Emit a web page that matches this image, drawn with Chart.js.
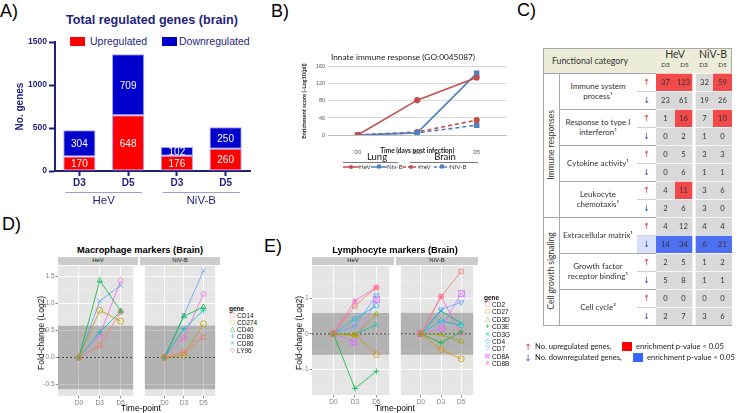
<!DOCTYPE html>
<html>
<head>
<meta charset="utf-8">
<script src="https://cdn.jsdelivr.net/npm/chart.js@4.4.1/dist/chart.umd.min.js"></script>
<style>
body{margin:0;background:#fff;width:740px;height:413px;overflow:hidden;position:relative;font-family:"Liberation Sans",Arial,sans-serif}
canvas{position:absolute}
.lbl{position:absolute;white-space:pre;line-height:1.2}
.bx{position:absolute;box-sizing:border-box}
</style>
</head>
<body>
<script>
// ---- A) total regulated genes
const aGroups = ['HeV', 'NiV-B'];
const aDays = ['D3', 'D5', 'D3', 'D5'];
const aUp = [170, 648, 176, 260];
const aDown = [304, 709, 102, 250];

// ---- B) innate immune response
const bDays = ['D0', 'D3', 'D5'];
const bLungHeV = [0, 82, 135];
const bLungNiV = [0, 5, 145];
const bBrainHeV = [0, 7, 35];
const bBrainNiV = [0, 5, 23];

// ---- C) functional categories
const cGroupNames = ['Immune responses', 'Cell growth signaling'];
const cGroupSizes = [4, 3];
const cCategories = ['Immune system\nprocess¹', 'Response to type I\ninterferon¹', 'Cytokine activity¹',
  'Leukocyte\nchemotaxis¹', 'Extracellular matrix¹', 'Growth factor\nreceptor binding¹', 'Cell cycle²'];
const cColumns = ['HeV D3', 'HeV D5', 'NiV-B D3', 'NiV-B D5'];
const cUp = [[37, 123, 32, 59], [1, 16, 7, 10], [0, 5, 3, 3], [4, 11, 3, 6], [4, 12, 4, 4], [2, 5, 1, 2], [0, 0, 0, 0]];
const cDown = [[23, 61, 19, 26], [0, 2, 1, 0], [0, 6, 1, 1], [2, 6, 3, 0], [14, 34, 6, 21], [5, 8, 1, 1], [2, 7, 3, 6]];
const cUpSig = [[1, 1, 0, 1], [0, 1, 0, 1], [0, 0, 0, 0], [0, 1, 0, 0], [0, 0, 0, 0], [0, 0, 0, 0], [0, 0, 0, 0]];
const cDownSig = [[0, 0, 0, 0], [0, 0, 0, 0], [0, 0, 0, 0], [0, 0, 0, 0], [1, 1, 1, 1], [0, 0, 0, 0], [0, 0, 0, 0]];

// ---- D) / E) fold-change facets
const timePoints = ['D0', 'D3', 'D5'];
const foldBand = 0.585; // log2(1.5)
const dGenes = ['CD14', 'CD274', 'CD40', 'CD80', 'CD86', 'LY96'];
const dHeV = [[0, 0.22, 0.84], [0, 0.87, 0.67], [0, 1.42, 0.86], [0, 0.47, 0.85], [0, 1.04, 1.33], [0, 0.41, 1.42]];
const dNiV = [[0, 0.10, 0.37], [0, 0.04, 0.62], [0, 0.76, 0.93], [0, 0.53, 0.87], [0, 0.78, 1.60], [0, 0.36, 1.17]];
const dTicks = [-0.5, 0, 0.5, 1, 1.5];
const eGenes = ['CD2', 'CD27', 'CD3D', 'CD3E', 'CD3G', 'CD4', 'CD7', 'CD8A', 'CD8B'];
const eHeV = [[0, 0.78, 1.29], [0, -0.02, -0.58], [0, -0.05, 0.55], [0, -1.53, -1.05], [0, -0.02, 0.26],
  [0, 0.42, 0.78], [0, 0.21, 1.08], [0, -0.23, 0.97], [0, 0.92, 1.30]];
const eNiV = [[0, 1.04, 1.74], [0, -0.44, -0.70], [0, -0.02, -0.21], [0, -0.25, 0.05], [0, 0.64, 0.30],
  [0, 0.36, 0.24], [0, 0.68, 0.88], [0, 0.15, 1.13], [0, 1.04, 0.0]];
const eTicks = [-1, 0, 1];

const dColors = ['#F8766D', '#B79F00', '#00BA38', '#00BFC4', '#619CFF', '#F564E3'];
const eColors = ['#F8766D', '#D39200', '#93AA00', '#00BA38', '#00C19F', '#00B9E3', '#619CFF', '#DB72FB', '#FF61C3'];
const dShapes = ['rect', 'circle', 'triangle', 'cross', 'crossRot', 'rectRot'];
const eShapes = ['rect', 'circle', 'triangle', 'cross', 'crossRot', 'rectRot', 'triDown', 'sqCross', 'star'];
const glyphs = {rect: '□', circle: '○', triangle: '△', cross: '+', crossRot: '×', rectRot: '◇', triDown: '▽', sqCross: '⊠', star: '✳'};

const navy = '#1f1f7e';
Chart.defaults.font.family = '"Liberation Sans", Arial, sans-serif';
Chart.defaults.animation = false;

// helpers
function makeCanvas(x, y, w, h) {
  const c = document.createElement('canvas');
  c.width = w; c.height = h;
  c.style.left = x + 'px'; c.style.top = y + 'px';
  c.style.width = w + 'px'; c.style.height = h + 'px';
  document.body.appendChild(c);
  return c;
}
function label(str, x, y, css, anchor, rot) {
  const d = document.createElement('div');
  d.className = 'lbl';
  d.textContent = str;
  d.style.cssText += 'left:' + x + 'px;top:' + y + 'px;' + (css || '');
  const tx = anchor === 'l' ? '0' : anchor === 'r' ? '-100%' : '-50%';
  d.style.transform = 'translate(' + tx + ',-50%)' + (rot ? ' rotate(-90deg)' : '');
  document.body.appendChild(d);
  return d;
}
function box(x, y, w, h, css) {
  const d = document.createElement('div');
  d.className = 'bx';
  d.style.cssText += 'left:' + x + 'px;top:' + y + 'px;width:' + w + 'px;height:' + h + 'px;' + (css || '');
  document.body.appendChild(d);
  return d;
}

// panel letters
label('A)', 0, 12, 'font-size:18px', 'l');
label('B)', 271, 12, 'font-size:18px', 'l');
label('C)', 517, 11, 'font-size:18px', 'l');
label('D)', 2, 225, 'font-size:18px', 'l');
label('E)', 264, 247, 'font-size:18px', 'l');

// ================= A =================
label('Total regulated genes (brain)', 152, 21, 'font-size:12.6px;font-weight:bold;color:' + navy);
box(70, 37, 15, 9, 'background:#ff0000');
label('Upregulated', 90, 41, 'font-size:10.5px;color:' + navy, 'l');
box(162, 37, 15, 9, 'background:#0000cc');
label('Downregulated', 179, 41, 'font-size:10.5px;color:' + navy, 'l');

const aPlugin = {
  id: 'aExtras',
  afterDatasetsDraw(chart) {
    const ctx = chart.ctx;
    ctx.save();
    ctx.fillStyle = '#fff';
    ctx.font = '10px "Liberation Sans"';
    ctx.textAlign = 'center';
    ctx.textBaseline = 'middle';
    chart.data.datasets.forEach((ds, di) => {
      chart.getDatasetMeta(di).data.forEach((bar, i) => {
        ctx.fillText(String(ds.data[i]), bar.x, (bar.y + bar.base) / 2 + 1);
      });
    });
    const x = chart.scales.x, x2 = chart.scales.x2;
    ctx.strokeStyle = '#9c9cd0';
    ctx.lineWidth = 1;
    aGroups.forEach((g, gi) => {
      const a = x.getPixelForValue(gi * 2) - 14, b = x.getPixelForValue(gi * 2 + 1) + 14;
      ctx.beginPath();
      ctx.moveTo(a, x2.top + 1.5);
      ctx.lineTo(b, x2.top + 1.5);
      ctx.stroke();
    });
    ctx.restore();
  }
};

new Chart(makeCanvas(0, 30, 252, 182), {
  type: 'bar',
  data: {
    labels: aDays,
    datasets: [
      {label: 'Upregulated', data: aUp, backgroundColor: '#ff0000', borderColor: '#a0a0ff', borderWidth: 1, borderSkipped: false},
      {label: 'Downregulated', data: aDown, backgroundColor: '#0000cc', borderColor: '#a0a0ff', borderWidth: 1, borderSkipped: false}
    ]
  },
  options: {
    responsive: false,
    barPercentage: 0.66,
    categoryPercentage: 1,
    layout: {padding: {top: 12, right: 2}},
    plugins: {legend: {display: false}, tooltip: {enabled: false}},
    scales: {
      x: {
        stacked: true, weight: 0,
        grid: {offset: false, drawOnChartArea: false, tickLength: 5, tickWidth: 2, tickColor: navy},
        border: {color: navy, width: 2},
        ticks: {color: navy, font: {size: 10, weight: 'bold'}, padding: 1},
        afterFit: s => { s.height = 20; }
      },
      x2: {
        type: 'category', labels: aGroups, position: 'bottom', weight: 1, offset: true,
        grid: {display: false, drawTicks: false}, border: {display: false},
        ticks: {color: navy, font: {size: 11.5}, padding: 3},
        afterFit: s => { s.height = 21; }
      },
      y: {
        stacked: true, min: 0, max: 1500,
        ticks: {stepSize: 500, color: navy, font: {size: 8.5, weight: 'bold'}, padding: 2, callback: v => String(v)},
        grid: {drawOnChartArea: false, tickLength: 6, tickWidth: 2, tickColor: navy},
        border: {color: navy, width: 2},
        title: {display: true, text: 'No. genes', color: navy, font: {size: 10, weight: 'bold'}, padding: {top: 14, bottom: 0}},
        afterFit: s => { s.width = 55; }
      }
    }
  },
  plugins: [aPlugin]
});

// ================= B =================
const bRed = '#c0504d', bBlue = '#4f81bd';
new Chart(makeCanvas(298, 48, 214, 107), {
  type: 'line',
  data: {
    labels: bDays,
    datasets: [
      {label: 'HeV', data: bLungHeV, borderColor: bRed, backgroundColor: bRed, pointStyle: 'circle', pointRadius: 2.3, borderWidth: 1.6},
      {label: 'Niv-B', data: bLungNiV, borderColor: bBlue, backgroundColor: bBlue, pointStyle: 'rect', pointRadius: 2.8, borderWidth: 1.6},
      {label: 'HeV', data: bBrainHeV, borderColor: bRed, backgroundColor: bRed, pointStyle: 'circle', pointRadius: 2.3, borderWidth: 1.6, borderDash: [4, 3]},
      {label: 'NiV-B', data: bBrainNiV, borderColor: bBlue, backgroundColor: bBlue, pointStyle: 'rect', pointRadius: 2.8, borderWidth: 1.6, borderDash: [4, 3]}
    ]
  },
  options: {
    responsive: false,
    layout: {padding: {right: 4}},
    plugins: {
      legend: {display: false}, tooltip: {enabled: false},
      title: {display: true, text: 'Innate immune response (GO:0045087)', color: '#222', font: {family: 'Lato', size: 8.3, weight: 'normal'}, padding: {top: 4, bottom: 5}}
    },
    scales: {
      x: {
        offset: true,
        grid: {display: false},
        border: {color: '#bfbfbf'},
        ticks: {color: '#595959', font: {size: 5.5}, padding: 6},
        title: {display: true, text: 'Time (days post infection)', color: '#222', font: {family: 'Lato', size: 6.5, weight: 'bold'}, padding: {top: 0, bottom: 0}},
        afterFit: s => { s.height = 20; }
      },
      y: {
        min: 0, max: 160,
        ticks: {stepSize: 20, color: '#595959', font: {size: 5.5}, padding: 3},
        grid: {color: '#d9d9d9', drawTicks: false},
        border: {display: false},
        title: {display: true, text: 'Enrichment score (-Log10(pl))', color: '#222', font: {family: 'Lato', size: 5.8, weight: 'bold'}, padding: {top: 3, bottom: 0}},
        afterFit: s => { s.width = 30; }
      }
    }
  }
});

// B legend
const bLegFont = 'font-family:Lato;font-size:6.2px;color:#333';
label('Lung', 377, 157, 'font-family:Lato;font-size:9.5px;color:#111');
label('Brain', 445, 157, 'font-family:Lato;font-size:9.5px;color:#111');
box(343, 162, 55, 1, 'background:#777');
box(410, 162, 68, 1, 'background:#777');
function legendSwatch(x, y, color, dashed, square) {
  const ns = 'http://www.w3.org/2000/svg';
  const svg = document.createElementNS(ns, 'svg');
  svg.setAttribute('width', 16); svg.setAttribute('height', 6);
  svg.style.cssText = 'position:absolute;left:' + x + 'px;top:' + (y - 3) + 'px';
  const ln = document.createElementNS(ns, 'line');
  ln.setAttribute('x1', 0); ln.setAttribute('x2', 16); ln.setAttribute('y1', 3); ln.setAttribute('y2', 3);
  ln.setAttribute('stroke', color); ln.setAttribute('stroke-width', 1.5);
  if (dashed) ln.setAttribute('stroke-dasharray', '3,2');
  svg.appendChild(ln);
  const m = document.createElementNS(ns, square ? 'rect' : 'circle');
  if (square) { m.setAttribute('x', 6); m.setAttribute('y', 0.5); m.setAttribute('width', 4); m.setAttribute('height', 4); }
  else { m.setAttribute('cx', 8); m.setAttribute('cy', 3); m.setAttribute('r', 2); }
  m.setAttribute('fill', color);
  svg.appendChild(m);
  document.body.appendChild(svg);
}
legendSwatch(343, 167, bRed, false, false); label('HeV', 359, 167, bLegFont, 'l');
legendSwatch(371, 167, bBlue, false, true); label('Niv-B', 387, 167, bLegFont, 'l');
legendSwatch(403, 167, bRed, true, false); label('HeV', 419, 167, bLegFont, 'l');
legendSwatch(434, 167, bBlue, true, true); label('NiV-B', 450, 167, bLegFont, 'l');

// ================= C =================
const T = {x0: 543, xg: 559, xc: 637, xa: 656, x1: 732, top: 48, hdr: 73, rowH: 18};
const tBottom = T.hdr + cCategories.length * 2 * T.rowH;
const lineCol = '#a8a8a8';
const cRed = '#f24a4a', cBlue = '#4d6ff0', cGrey = '#d9d9d9';
box(T.x0, T.top, T.x1 - T.x0, T.hdr - T.top, 'background:#ecedd8');
box(T.x0, T.hdr, T.x1 - T.x0, 1, 'background:' + lineCol);
box(T.xg, T.hdr, 1, tBottom - T.hdr, 'background:' + lineCol);
const colW = (T.x1 - T.xa) / cColumns.length;
const hdrFont = 'font-family:Lato;color:#333;';
label('Functional category', (T.x0 + T.xc) / 2, 61, hdrFont + 'font-size:8.8px');
label('HeV', T.xa + colW, 54, hdrFont + 'font-size:10.5px');
label('NiV-B', T.xa + colW * 3, 54, hdrFont + 'font-size:10.5px');
cColumns.forEach((c, i) => label(c.split(' ')[1], T.xa + colW * (i + 0.5), 64.5, hdrFont + 'font-size:6.5px'));

let gStart = 0;
cGroupNames.forEach((g, gi) => {
  const y0 = T.hdr + gStart * 2 * T.rowH, y1 = y0 + cGroupSizes[gi] * 2 * T.rowH;
  label(g, (T.x0 + T.xg) / 2, (y0 + y1) / 2, hdrFont + 'font-size:8.5px', 'c', true);
  if (gi > 0) box(T.x0, y0, T.x1 - T.x0, 1, 'background:' + lineCol);
  gStart += cGroupSizes[gi];
});
cCategories.forEach((cat, i) => {
  const y = T.hdr + i * 2 * T.rowH;
  if (i > 0) box(T.xg, y, T.x1 - T.xg, 1, 'background:' + lineCol);
  box(T.xc, y + T.rowH, T.xa - T.xc, 1, 'background:#cfcfcf');
  label(cat, (T.xg + T.xc) / 2, y + T.rowH, hdrFont + 'font-size:8px;text-align:center;line-height:1.3');
  if (cDownSig[i].every(s => s)) box(T.xc, y + T.rowH + 1, T.xa - T.xc, T.rowH - 1, 'background:#d9e0fb');
  label('↑', (T.xc + T.xa) / 2, y + T.rowH / 2, 'font-family:"DejaVu Sans";font-size:8.5px;color:#e8322f');
  label('↓', (T.xc + T.xa) / 2, y + T.rowH * 1.5, 'font-family:"DejaVu Sans";font-size:8.5px;color:#2f55d8');
});
box(T.x0, T.top, T.x1 - T.x0, tBottom - T.top + 1, 'border:1px solid ' + lineCol);

const gridRows = [];
cUp.forEach((u, i) => {
  gridRows.push({vals: u, sig: cUpSig[i], col: cRed});
  gridRows.push({vals: cDown[i], sig: cDownSig[i], col: cBlue});
});
const cellText = {
  id: 'cellText',
  afterDatasetsDraw(chart) {
    const ctx = chart.ctx;
    ctx.save();
    ctx.font = '7.6px Lato';
    ctx.fillStyle = '#333';
    ctx.textAlign = 'center';
    ctx.textBaseline = 'middle';
    chart.data.datasets.forEach((ds, di) => {
      chart.getDatasetMeta(di).data.forEach((el, i) => {
        ctx.fillText(String(gridRows[di].vals[i]), el.x + (i === 1 ? -1 : i === 2 ? 1 : 0), (el.y + el.base) / 2 + 0.5);
      });
    });
    ctx.restore();
  }
};
new Chart(makeCanvas(T.xa, T.hdr, T.x1 - T.xa, tBottom - T.hdr), {
  type: 'bar',
  data: {
    labels: cColumns,
    datasets: gridRows.map((r, ri) => ({
      data: r.vals.map(() => [ri, ri + 1]),
      grouped: false,
      barPercentage: 1,
      categoryPercentage: 1,
      backgroundColor: r.sig.map(s => s ? r.col : cGrey),
      borderColor: '#ffffff',
      borderSkipped: false,
      borderWidth: ctx => ({top: 1, bottom: 0, left: ctx.dataIndex === 2 ? 2 : 0, right: ctx.dataIndex === 1 ? 2 : 0})
    }))
  },
  options: {
    responsive: false,
    layout: {padding: 0},
    plugins: {legend: {display: false}, tooltip: {enabled: false}},
    scales: {
      x: {display: false},
      y: {display: false, min: 0, max: gridRows.length, reverse: true}
    }
  },
  plugins: [cellText]
});

const legF = 'font-family:Lato;font-size:7.6px;color:#222';
label('↑', 528, 347, 'font-family:"DejaVu Sans";font-size:8.5px;color:#e8322f');
label('No. upregulated genes,', 535, 347, legF, 'l');
box(622, 342, 10, 9, 'background:#ff0000');
label('enrichment p-value < 0.05', 636, 347, legF, 'l');
label('↓', 528, 358, 'font-family:"DejaVu Sans";font-size:8.5px;color:#2f55d8');
label('No. downregulated genes,', 535, 358, legF, 'l');
box(633, 353, 10, 9, 'background:#3366ff');
label('enrichment p-value < 0.05', 647, 358, legF, 'l');

// ================= D / E =================
function sqCrossImg(color) {
  const c = document.createElement('canvas');
  c.width = 7; c.height = 7;
  const g = c.getContext('2d');
  g.strokeStyle = color; g.lineWidth = 0.8;
  g.strokeRect(0.5, 0.5, 6, 6);
  g.beginPath(); g.moveTo(0.5, 0.5); g.lineTo(6.5, 6.5); g.moveTo(6.5, 0.5); g.lineTo(0.5, 6.5); g.stroke();
  return c;
}
function shapeProps(shape, color) {
  if (shape === 'triDown') return {pointStyle: 'triangle', pointRotation: 180};
  if (shape === 'sqCross') return {pointStyle: sqCrossImg(color)};
  return {pointStyle: shape};
}
const facetPlugin = {
  id: 'facet',
  beforeDraw(chart) {
    const {ctx, chartArea: a} = chart;
    ctx.save();
    ctx.fillStyle = '#e5e5e5';
    ctx.fillRect(a.left, a.top, a.width, a.height);
    ctx.restore();
  },
  beforeDatasetsDraw(chart) {
    const {ctx, chartArea: a} = chart;
    const y = chart.scales.y;
    const t = y.getPixelForValue(foldBand), b = y.getPixelForValue(-foldBand);
    ctx.save();
    ctx.fillStyle = 'rgba(0,0,0,0.22)';
    ctx.fillRect(a.left, t, a.width, b - t);
    const z = y.getPixelForValue(0);
    ctx.strokeStyle = '#222';
    ctx.lineWidth = 0.8;
    ctx.setLineDash([2, 2]);
    ctx.beginPath(); ctx.moveTo(a.left, z); ctx.lineTo(a.right, z); ctx.stroke();
    ctx.restore();
  }
};

function facet(x, y, w, h, yW, series, genes, colors, shapes, yMin, yMax, majors, fmt, strip) {
  const step = (majors[1] - majors[0]) / 2;
  const yTicks = [];
  for (let v = majors[0] - step; v <= yMax + 1e-9; v += step) if (v >= yMin) yTicks.push(Math.round(v * 100) / 100);
  const isMajor = v => majors.some(m => Math.abs(m - v) < 1e-6);
  const showY = yW > 0;
  box(x, y - 8.5, w, 8.5, 'background:#cccccc');
  label(strip, x + w / 2, y - 4.2, 'font-size:6px;color:#1a1a1a');
  new Chart(makeCanvas(x - yW, y - 4, w + yW, h + 4 + 12), {
    type: 'line',
    data: {
      datasets: genes.map((g, i) => Object.assign({
        label: g,
        data: series[i].map((v, j) => ({x: j + 1, y: v})),
        borderColor: colors[i],
        backgroundColor: 'rgba(0,0,0,0)',
        pointBackgroundColor: 'rgba(0,0,0,0)',
        borderWidth: 0.8,
        pointBorderWidth: 0.8,
        pointRadius: 3,
        tension: 0
      }, shapeProps(shapes[i], colors[i])))
    },
    options: {
      responsive: false,
      layout: {padding: {top: 4, left: 0, right: 0, bottom: 0}},
      plugins: {legend: {display: false}, tooltip: {enabled: false}},
      scales: {
        x: {
          type: 'linear', min: 0, max: 3.6,
          afterBuildTicks: s => { s.ticks = timePoints.map((t, i) => ({value: i + 1})); },
          ticks: {callback: v => timePoints[Math.round(v) - 1], color: '#7f7f7f', font: {size: 6.5}, padding: 1, maxRotation: 0, autoSkip: false},
          grid: {color: '#ffffff', lineWidth: 0.9, tickColor: '#7f7f7f', tickLength: 2.5},
          border: {display: false},
          afterFit: s => { s.height = 12; }
        },
        y: {
          min: yMin, max: yMax,
          afterBuildTicks: s => { s.ticks = yTicks.map(v => ({value: v})); },
          ticks: {display: showY, callback: v => isMajor(v) ? fmt(v) : '', color: '#7f7f7f', font: {size: 6.5}, padding: 1},
          grid: {
            color: c => isMajor(c.tick.value) ? '#ffffff' : '#f2f2f2',
            lineWidth: c => isMajor(c.tick.value) ? 0.9 : 0.45,
            tickColor: c => isMajor(c.tick.value) ? '#7f7f7f' : 'rgba(0,0,0,0)',
            drawTicks: showY, tickLength: 2.5
          },
          border: {display: false},
          afterFit: s => { s.width = yW; }
        }
      }
    },
    plugins: [facetPlugin]
  });
}
function geneLegend(x, y, spacing, genes, colors, shapes) {
  label('gene', x, y, 'font-size:6.5px;font-weight:bold;color:#111', 'l');
  genes.forEach((g, i) => {
    const yy = y + spacing * (i + 1) - 0.5;
    label(glyphs[shapes[i]], x + 3.5, yy, 'font-family:"DejaVu Sans";font-size:6.5px;color:' + colors[i]);
    label(g, x + 8, yy, 'font-size:6.5px;color:#111', 'l');
  });
}

// D
label('Macrophage markers (Brain)', 140, 251, 'font-size:9.3px;font-weight:bold;color:#000');
facet(58, 265, 80, 131, 16, dHeV, dGenes, dColors, dShapes, -0.71, 1.69, dTicks, v => v.toFixed(1), 'HeV');
facet(140, 265, 80, 131, 0, dNiV, dGenes, dColors, dShapes, -0.71, 1.69, dTicks, v => v.toFixed(1), 'NiV-B');
label('Fold-change (Log2)', 41, 333, 'font-size:8.5px;color:#000', 'c', true);
label('Time-point', 141, 408, 'font-size:8.5px;color:#000');
geneLegend(229, 309, 7.1, dGenes, dColors, dShapes);

// E
label('Lymphocyte markers (Brain)', 395, 251, 'font-size:9.3px;font-weight:bold;color:#000');
facet(312, 265, 82, 130, 12, eHeV, eGenes, eColors, eShapes, -1.71, 1.9, eTicks, v => String(v), 'HeV');
facet(396, 265, 82, 130, 0, eNiV, eGenes, eColors, eShapes, -1.71, 1.9, eTicks, v => String(v), 'NiV-B');
label('Fold-change (Log2)', 299, 333, 'font-size:8.5px;color:#000', 'c', true);
label('Time-point', 395, 408, 'font-size:8.5px;color:#000');
geneLegend(484, 298, 7.4, eGenes, eColors, eShapes);
</script>
</body>
</html>
